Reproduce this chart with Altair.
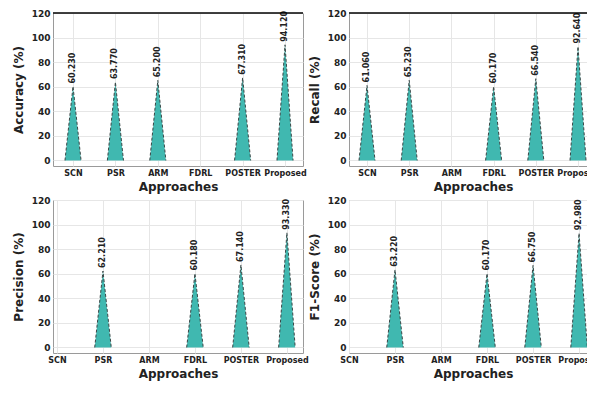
import altair as alt
import pandas as pd

approaches = ["SCN", "PSR", "ARM", "FDRL", "POSTER", "Proposed"]
accuracy = [60.23, 63.77, 65.20, None, 67.31, 94.12]
recall = [61.06, 65.23, None, 60.17, 66.54, 92.64]
precision = [None, 62.21, None, 60.18, 67.14, 93.33]
f1_score = [None, 63.22, None, 60.17, 66.75, 92.98]
y_ticks = [0, 20, 40, 60, 80, 100, 120]

TEAL = "#40b8b0"
EDGE = "#3a4646"
FONT = "DejaVu Sans"
label_expr = "[" + ",".join("'%s'" % a for a in approaches) + "][datum.value]"
PANEL_H = 153


def panel(values, ytitle, xdom, width, hw, top_black):
    bars, verts = [], []
    for i, (a, v) in enumerate(zip(approaches, values)):
        if v is None:
            continue
        bars.append({"pos": i, "approach": a, "value": v})
        for k, (x, y) in enumerate([(i - hw, 0.0), (i, v), (i + hw, 0.0)]):
            verts.append({"approach": a, "x": x, "y": y, "k": k})
    bars = pd.DataFrame(bars)
    verts = pd.DataFrame(verts)

    xs = alt.Scale(domain=xdom, nice=False, zero=False)
    ys = alt.Scale(domain=[-4.5, 120], nice=False, zero=False)
    xax = alt.Axis(values=list(range(len(approaches))), labelExpr=label_expr,
                   title="Approaches", grid=True, ticks=False, domain=False,
                   labelPadding=3, titlePadding=4, labelOverlap=False,
                   labelFlush=False, labelFontSize=8, labelFontWeight="bold",
                   labelFont=FONT, titleFont=FONT, titleFontSize=12,
                   titleFontWeight="bold", labelColor="#222", titleColor="#222",
                   gridColor="#e6e6e6")
    yax = alt.Axis(values=y_ticks, title=ytitle, grid=True, ticks=False,
                   domain=False, labelPadding=3, titlePadding=6,
                   labelOverlap=False, labelFlush=False, tickCount=7,
                   labelFontSize=9, labelFontWeight="bold", labelFont=FONT,
                   titleFont=FONT, titleFontSize=12, titleFontWeight="bold",
                   labelColor="#222", titleColor="#222", gridColor="#e6e6e6")

    X = lambda f: alt.X(f, scale=xs, axis=xax)
    Y = lambda f: alt.Y(f, scale=ys, axis=yax)

    area = alt.Chart(verts).mark_area(color=TEAL, opacity=1).encode(
        x=X("x:Q"), y=Y("y:Q"), detail="approach:N")
    edge = alt.Chart(verts).mark_line(color=EDGE, strokeDash=[3, 2],
                                      strokeWidth=1).encode(
        x=X("x:Q"), y=Y("y:Q"), detail="approach:N", order="k:Q")
    text = alt.Chart(bars).mark_text(angle=270, align="left", baseline="middle",
                                     dx=3, fontSize=8, fontWeight="bold",
                                     font=FONT, color="#222").encode(
        x=X("pos:Q"), y=Y("value:Q"), text=alt.Text("value:Q", format=".3f"))
    layers = [area, edge, text]
    if top_black:
        rule = alt.Chart(pd.DataFrame({"top": [120]})).mark_rule(
            color="black", strokeWidth=1.3).encode(y=Y("top:Q"))
        layers.append(rule)
    return alt.layer(*layers).properties(width=width, height=PANEL_H)


p1 = panel(accuracy, "Accuracy (%)", [-0.472, 5.424], 250, 0.19, True)
p2 = panel(recall, "Recall (%)", [-0.427, 5.45], 248, 0.19, True)
p3 = panel(precision, "Precision (%)", [-0.087, 5.35], 250, 0.18, False)
p4 = panel(f1_score, "F1-Score (%)", [0, 5.39], 248, 0.18, False)

chart = alt.concat(p1, p2, p3, p4, columns=2,
                   spacing={"row": 34, "column": 46}, bounds="flush").configure(
    autosize=alt.AutoSizeParams(type="none"),
    padding={"left": 45, "top": 5, "right": 534, "bottom": 369},
    background="white",
).configure_view(stroke="#9a9a9a", strokeWidth=1)

chart.save("out.html", embed_options={"renderer": "svg", "actions": False})
